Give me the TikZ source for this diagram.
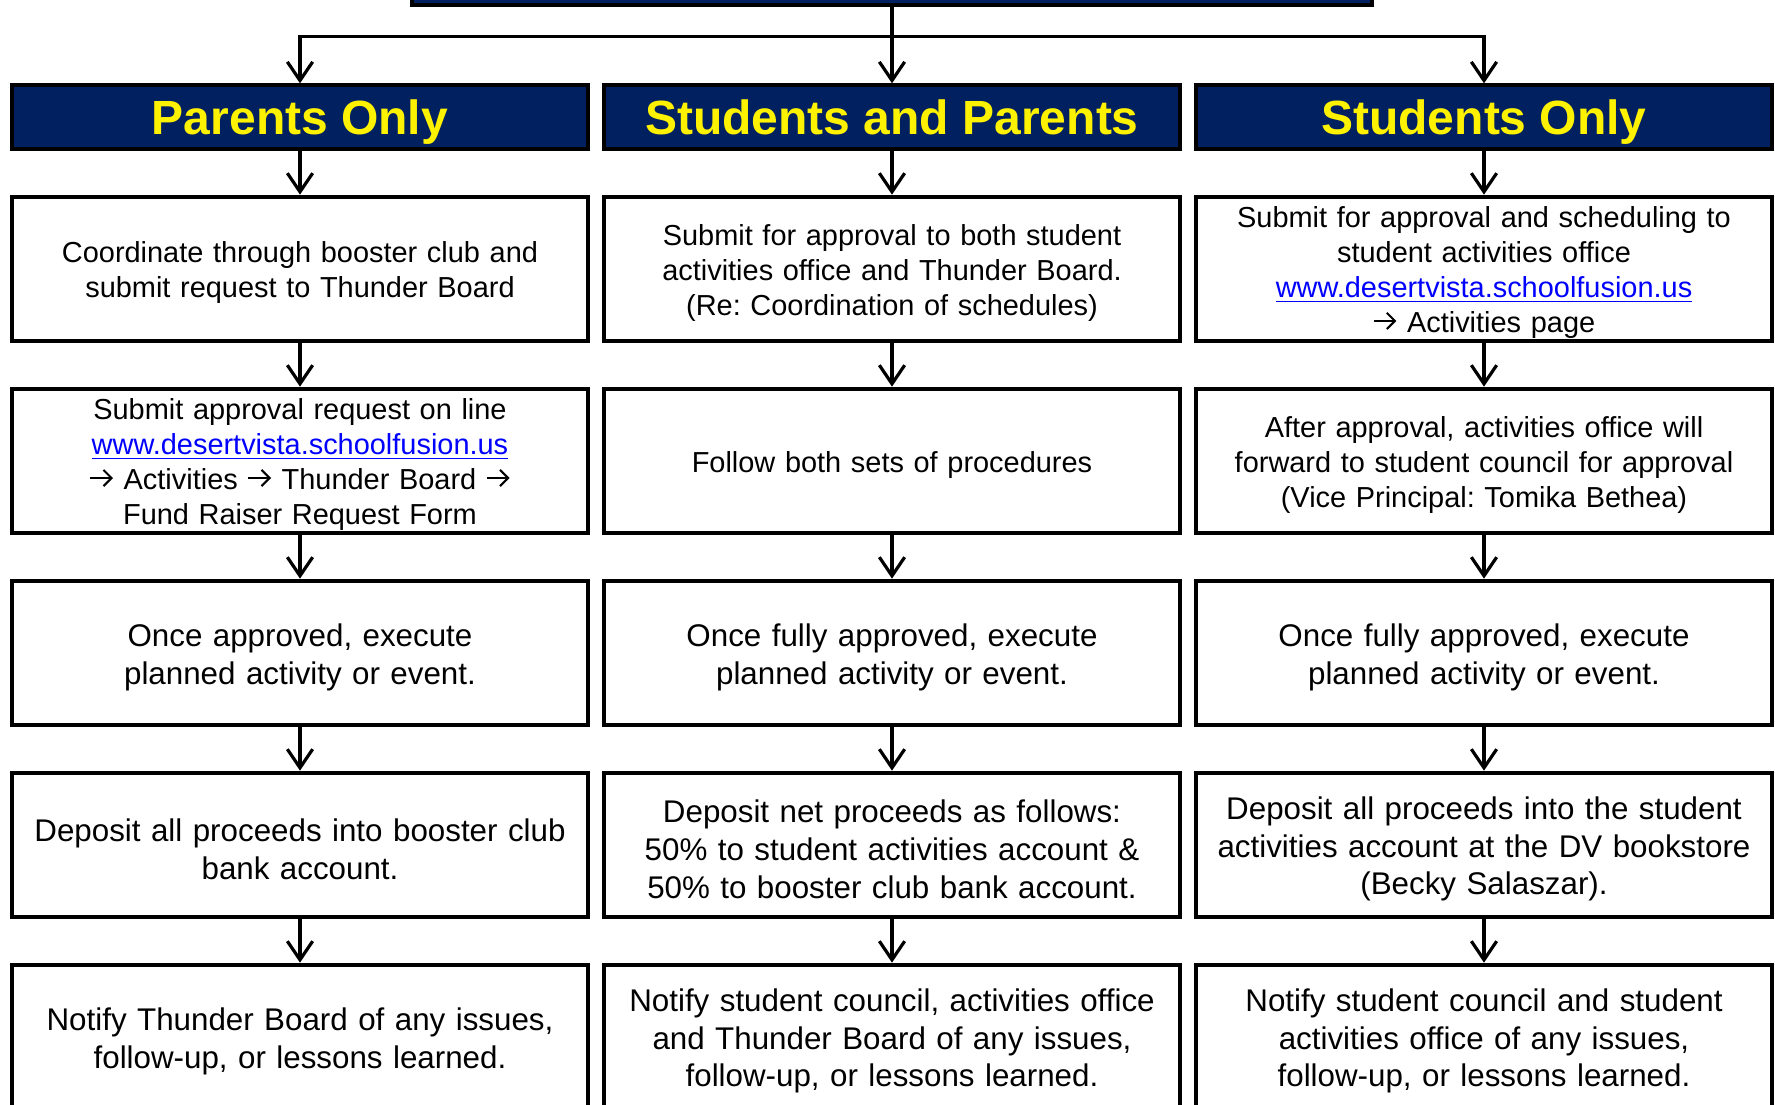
\documentclass[tikz,border=0pt]{standalone}
\usepackage{fontspec}
\setmainfont{Liberation Sans}
\usetikzlibrary{positioning,arrows.meta}
\definecolor{boxnavy}{RGB}{0,32,96}
\definecolor{linkblue}{RGB}{0,0,255}
\newcommand{\weblink}[1]{\leavevmode{\color{linkblue}\setbox0=\hbox{#1}\rlap{\rule[-3.6pt]{\wd0}{1.2pt}}\box0}}
\newcommand{\goarrow}{\tikz[baseline=-0.4em,x=1em,y=1em]\draw[line width=0.07em,-{Straight Barb[length=0.28em,width=0.56em]}] (0,0) -- (0.78,0);}
\frenchspacing

\begin{document}
\begin{tikzpicture}[x=0.75pt,y=-0.75pt,node distance=33pt,
  head/.style={draw,fill=boxnavy,text=yellow,line width=3pt,minimum width=432pt,minimum height=47.5pt,inner sep=0pt,text height=25.8pt,text depth=0pt,font=\fontsize{36}{40}\selectfont\bfseries},
  stepbox/.style={draw,line width=3pt,minimum width=432pt,minimum height=108pt,text width=420pt,inner sep=0pt,align=center,execute at begin node={\rule{0pt}{1em}}},
  sm/.style={font=\fontsize{21.7}{26.2}\selectfont},
  lg/.style={font=\fontsize{23.5}{28.4}\selectfont},
  flow/.style={line width=2.4pt,-{Straight Barb[length=14pt,width=19pt]}}]
\clip (0,0) rectangle (1775,1104);

% headers
\node [head] (h1) at (300,117) {Parents Only};
\node [head, right=9pt of h1] (h2) {Students and Parents};
\node [head, right=9pt of h2] (h3) {Students Only};
\node [draw,fill=boxnavy,line width=3pt,minimum width=720pt,minimum height=75pt,above=57.5pt of h2] (top) {};
\coordinate [below=22.5pt of top] (split);

% parents only
\node [stepbox, sm, below=of h1] (p1) {Coordinate through booster club and\\submit request to Thunder Board};
\node [stepbox, sm, below=of p1] (p2) {Submit approval request on line\\\weblink{www.desertvista.schoolfusion.us}\\\goarrow{} Activities \goarrow{} Thunder Board \goarrow\\Fund Raiser Request Form};
\node [stepbox, lg, below=of p2] (p3) {Once approved, execute\\planned activity or event.};
\node [stepbox, lg, below=of p3] (p4) {Deposit all proceeds into booster club\\bank account.};
\node [stepbox, lg, below=of p4] (p5) {Notify Thunder Board of any issues,\\follow-up, or lessons learned.};

% students and parents
\node [stepbox, sm, below=of h2] (b1) {Submit for approval to both student\\activities office and Thunder Board.\\(Re: Coordination of schedules)};
\node [stepbox, sm, below=of b1] (b2) {Follow both sets of procedures};
\node [stepbox, lg, below=of b2] (b3) {Once fully approved, execute\\planned activity or event.};
\node [stepbox, lg, below=of b3] (b4) {Deposit net proceeds as follows:\\50\% to student activities account \&\\50\% to booster club bank account.};
\node [stepbox, lg, below=of b4] (b5) {Notify student council, activities office\\and Thunder Board of any issues,\\follow-up, or lessons learned.};

% students only
\node [stepbox, sm, below=of h3] (s1) {Submit for approval and scheduling to\\student activities office\\\weblink{www.desertvista.schoolfusion.us}\\\goarrow{} Activities page};
\node [stepbox, sm, below=of s1] (s2) {After approval, activities office will\\forward to student council for approval\\(Vice Principal: Tomika Bethea)};
\node [stepbox, lg, below=of s2] (s3) {Once fully approved, execute\\planned activity or event.};
\node [stepbox, lg, below=of s3] (s4) {Deposit all proceeds into the student\\activities account at the DV bookstore\\(Becky Salaszar).};
\node [stepbox, lg, below=of s4] (s5) {Notify student council and student\\activities office of any issues,\\follow-up, or lessons learned.};

\draw [line width=2.4pt] (top) -- (split);
\draw [flow] (split) -| (h1);
\draw [flow] (split) -- (h2);
\draw [flow] (split) -| (h3);

\draw [flow] (h1) -- (p1);
\draw [flow] (p1) -- (p2);
\draw [flow] (p2) -- (p3);
\draw [flow] (p3) -- (p4);
\draw [flow] (p4) -- (p5);

\draw [flow] (h2) -- (b1);
\draw [flow] (b1) -- (b2);
\draw [flow] (b2) -- (b3);
\draw [flow] (b3) -- (b4);
\draw [flow] (b4) -- (b5);

\draw [flow] (h3) -- (s1);
\draw [flow] (s1) -- (s2);
\draw [flow] (s2) -- (s3);
\draw [flow] (s3) -- (s4);
\draw [flow] (s4) -- (s5);
\end{tikzpicture}
\end{document}
